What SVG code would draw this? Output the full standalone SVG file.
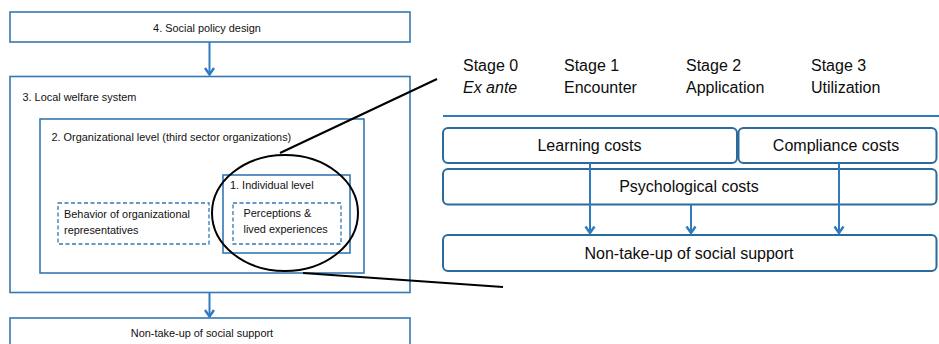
<svg xmlns="http://www.w3.org/2000/svg" width="939" height="344" viewBox="0 0 939 344">
  <style>
    .lbox { fill: #ffffff; stroke: #3478b2; stroke-width: 1.6; }
    .dbox { fill: #ffffff; stroke: #3478b2; stroke-width: 1.3; stroke-dasharray: 4 2.5; }
    .rbox { fill: #ffffff; stroke: #2a6a9c; stroke-width: 2; }
    .lt { font-family: "Liberation Sans", Arial, sans-serif; font-size: 10.9px; fill: #111111; }
    .rt { font-family: "Liberation Sans", Arial, sans-serif; font-size: 16px; fill: #0d0d0d; }
    .conn { stroke: #2e7bbf; stroke-width: 2; fill: none; }
    .callout { stroke: #000000; stroke-width: 2; fill: none; }
  </style>
  <defs>
    <marker id="arr" viewBox="0 0 12 12" refX="11" refY="6" markerWidth="12" markerHeight="12" markerUnits="userSpaceOnUse" orient="auto">
      <path d="M4,1.5 L10.5,6 L4,10.5" fill="none" stroke="#2e7bbf" stroke-width="2.4"/>
    </marker>
  </defs>
  <rect width="939" height="344" fill="#ffffff"/>

  <g id="social-policy">
    <rect class="lbox" x="10" y="12" width="400" height="30"/>
    <text class="lt" x="207" y="31.5" text-anchor="middle">4. Social policy design</text>
  </g>
  <g id="local-welfare">
    <rect class="lbox" x="10" y="76.5" width="400" height="216"/>
    <text class="lt" x="22.5" y="101">3. Local welfare system</text>
  </g>
  <g id="organizational">
    <rect class="lbox" x="40" y="119" width="324" height="154"/>
    <text class="lt" x="51.5" y="141">2. Organizational level (third sector organizations)</text>
  </g>
  <g id="individual">
    <rect class="lbox" x="223" y="175" width="127" height="78"/>
    <text class="lt" x="230" y="189">1. Individual level</text>
  </g>
  <g id="behavior">
    <rect class="dbox" x="58" y="203" width="151" height="41"/>
    <text class="lt" x="64" y="218">Behavior of organizational</text>
    <text class="lt" x="64" y="233.5">representatives</text>
  </g>
  <g id="perceptions">
    <rect class="dbox" x="233" y="203" width="108" height="41"/>
    <text class="lt" x="243.5" y="217">Perceptions &amp;</text>
    <text class="lt" x="243.5" y="232.5">lived experiences</text>
  </g>
  <g id="nontakeup-left">
    <rect class="lbox" x="10" y="318" width="400" height="40"/>
    <text class="lt" x="202" y="336.5" text-anchor="middle">Non-take-up of social support</text>
  </g>

  <g id="zoom-callout">
    <ellipse class="callout" cx="285" cy="213" rx="73" ry="58"/>
    <line class="callout" x1="280" y1="153" x2="437" y2="79"/>
    <line class="callout" x1="303" y1="273" x2="503" y2="287"/>
  </g>

  <g id="stages">
    <text class="rt" x="463" y="70.5">Stage 0</text>
    <text class="rt" x="463" y="93" font-style="italic">Ex ante</text>
    <text class="rt" x="564" y="70.5">Stage 1</text>
    <text class="rt" x="564" y="93">Encounter</text>
    <text class="rt" x="686" y="70.5">Stage 2</text>
    <text class="rt" x="686" y="93">Application</text>
    <text class="rt" x="811" y="70.5">Stage 3</text>
    <text class="rt" x="811" y="93">Utilization</text>
  </g>

  <g id="learning-costs">
    <rect class="rbox" x="443" y="128" width="294" height="35" rx="5"/>
    <text class="rt" x="589.5" y="150.5" text-anchor="middle">Learning costs</text>
  </g>
  <g id="compliance-costs">
    <rect class="rbox" x="738.5" y="128" width="198" height="35" rx="5"/>
    <text class="rt" x="836" y="150.5" text-anchor="middle">Compliance costs</text>
  </g>
  <g id="psychological-costs">
    <rect class="rbox" x="443" y="169" width="493.5" height="35.5" rx="5"/>
    <text class="rt" x="689" y="192" text-anchor="middle">Psychological costs</text>
  </g>
  <g id="nontakeup-right">
    <rect class="rbox" x="443" y="235" width="493.5" height="36" rx="5"/>
    <text class="rt" x="689" y="258.5" text-anchor="middle">Non-take-up of social support</text>
  </g>

  <g id="connectors">
    <line class="conn" x1="209.5" y1="42" x2="209.5" y2="75" marker-end="url(#arr)"/>
    <line class="conn" x1="209.5" y1="293" x2="209.5" y2="317" marker-end="url(#arr)"/>
    <line class="conn" x1="443" y1="116" x2="945" y2="116" stroke-width="2.5"/>
    <line class="conn" x1="590" y1="163" x2="590" y2="233.5" marker-end="url(#arr)"/>
    <line class="conn" x1="691" y1="205" x2="691" y2="233.5" marker-end="url(#arr)"/>
    <line class="conn" x1="839" y1="163" x2="839" y2="233.5" marker-end="url(#arr)"/>
  </g>
</svg>
